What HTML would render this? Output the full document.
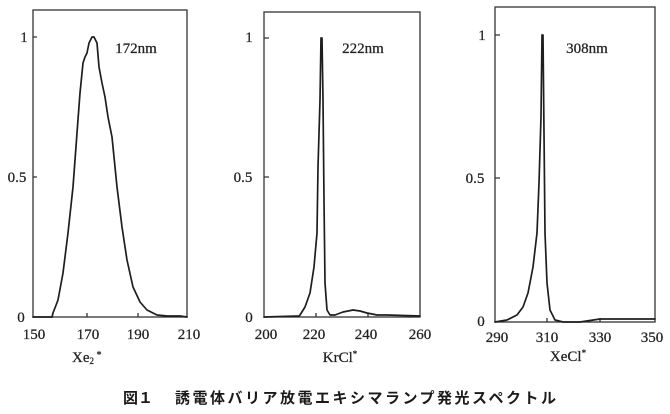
<!DOCTYPE html>
<html><head><meta charset="utf-8"><style>
html,body{margin:0;padding:0;background:#fff;}
svg{display:block;}
.t{font-family:"Liberation Serif",serif;fill:#222;font-size:15px;stroke:#222;stroke-width:0.25;}
.cap{font-family:"Liberation Sans","Noto Sans CJK JP",sans-serif;fill:#1a1a1a;font-size:15px;font-weight:700;}
</style></head><body>
<svg width="670" height="414" viewBox="0 0 670 414" xmlns="http://www.w3.org/2000/svg">
<g fill="none" stroke="#333" stroke-width="1.3">
<!-- Panel 1 -->
<rect x="33" y="10" width="154" height="307"/>
<path d="M33 37h4M33 177h4M87 317v-4M138 317v-4"/>
<!-- Panel 2 -->
<rect x="264" y="12" width="156" height="305"/>
<path d="M264 38h5M264 177h5M316 317v-4M368 317v-4"/>
<!-- Panel 3 -->
<rect x="495" y="7" width="160" height="315"/>
<path d="M495 35h5M495 178h5M547 322v-4M600 322v-4"/>
</g>
<g fill="none" stroke="#1e1e1e" stroke-width="1.7" stroke-linejoin="round" stroke-linecap="round">
<path d="M33 317 L52 317 L53 313 L58 300 L63 273 L68 233 L73 187 L77 133 L80 93 L83 63 L85 57 L87 53 L89 43 L92 37 L94 37 L97 43 L99 67 L102 83 L105 97 L108 117 L112 137 L115 167 L117 187 L122 227 L127 260 L133 287 L140 302 L147 310 L157 315 L167 316 L180 316 L187 317"/>
<path d="M264 317 L299 316 L300 315 L305 307 L310 293 L314 267 L317 233 L318 167 L320 100 L321 38 L322 38 L323 100 L324 200 L325 283 L327 310 L330 315 L335 315 L343 312 L353 310 L360 311 L367 313 L377 315 L387 315 L420 316"/>
<path d="M495 322 L507 320 L517 315 L523 307 L528 293 L533 267 L537 233 L539 183 L541 117 L542 35 L543 35 L544 133 L545 233 L547 283 L550 310 L555 320 L563 322 L580 322 L600 319 L620 319 L655 319"/>
</g>
<!-- Panel 1 labels -->
<text class="t" x="24" y="42" text-anchor="middle">1</text>
<text class="t" x="17" y="182" text-anchor="middle">0.5</text>
<text class="t" x="21" y="322" text-anchor="middle">0</text>
<text class="t" x="34" y="339" text-anchor="middle">150</text>
<text class="t" x="88" y="339" text-anchor="middle">170</text>
<text class="t" x="138" y="339" text-anchor="middle">190</text>
<text class="t" x="189" y="339" text-anchor="middle">210</text>
<text class="t" x="136" y="53" text-anchor="middle" font-size="14">172nm</text>
<text class="t" x="72" y="362" font-size="14">Xe<tspan font-size="9" dy="2">2</tspan><tspan dy="-6" font-size="10"> *</tspan></text>
<!-- Panel 2 labels -->
<text class="t" x="249" y="42" text-anchor="middle">1</text>
<text class="t" x="243" y="182" text-anchor="middle">0.5</text>
<text class="t" x="249" y="322" text-anchor="middle">0</text>
<text class="t" x="266" y="339" text-anchor="middle">200</text>
<text class="t" x="314" y="339" text-anchor="middle">220</text>
<text class="t" x="366" y="339" text-anchor="middle">240</text>
<text class="t" x="420" y="339" text-anchor="middle">260</text>
<text class="t" x="363" y="53" text-anchor="middle" font-size="14">222nm</text>
<text class="t" x="340" y="362" text-anchor="middle" font-size="14">KrCl<tspan dy="-5" font-size="9">*</tspan></text>
<!-- Panel 3 labels -->
<text class="t" x="482" y="40" text-anchor="middle">1</text>
<text class="t" x="475" y="183" text-anchor="middle">0.5</text>
<text class="t" x="481" y="326" text-anchor="middle">0</text>
<text class="t" x="497" y="342" text-anchor="middle">290</text>
<text class="t" x="547" y="342" text-anchor="middle">310</text>
<text class="t" x="600" y="342" text-anchor="middle">330</text>
<text class="t" x="652" y="342" text-anchor="middle">350</text>
<text class="t" x="587" y="53" text-anchor="middle" font-size="14">308nm</text>
<text class="t" x="568" y="361" text-anchor="middle" font-size="14">XeCl<tspan dy="-5" font-size="9">*</tspan></text>
<!-- Caption -->
<text class="cap" x="123" y="403">図１</text>
<text class="cap" x="175" y="403" letter-spacing="2.5">誘電体バリア放電エキシマランプ発光スペクトル</text>
</svg>
</body></html>
